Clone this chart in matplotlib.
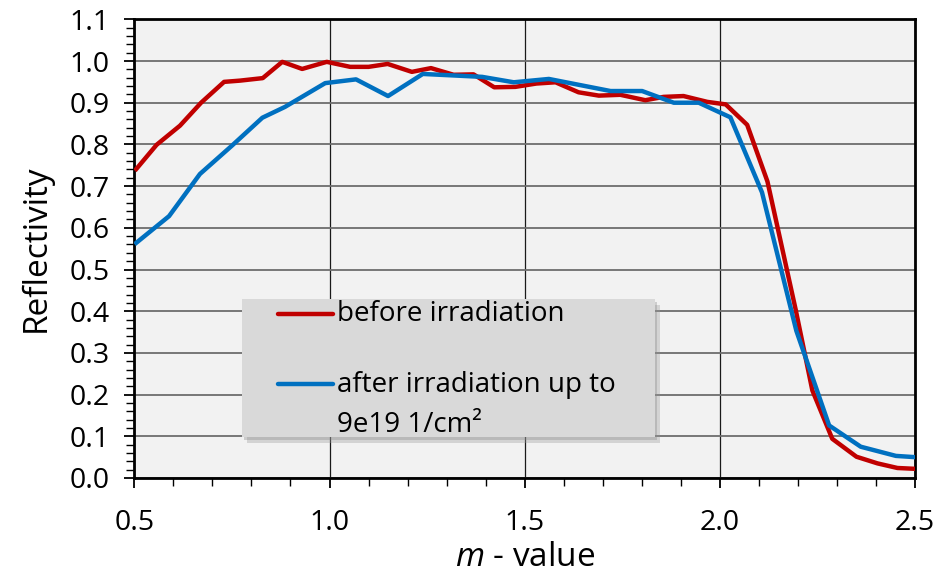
import matplotlib
matplotlib.use("Agg")
import matplotlib.pyplot as plt
from matplotlib.patches import Rectangle
from matplotlib.lines import Line2D
from matplotlib.ticker import MultipleLocator

plt.rcParams['font.family'] = ['Open Sans', 'DejaVu Sans']
plt.rcParams['mathtext.fontset'] = 'custom'
plt.rcParams['mathtext.rm'] = 'Open Sans'
plt.rcParams['mathtext.it'] = 'Open Sans:italic'

before_m = [0.505, 0.557, 0.617, 0.671, 0.730, 0.771, 0.829, 0.879, 0.930, 0.993,
            1.053, 1.100, 1.149, 1.211, 1.260, 1.318, 1.369, 1.422, 1.476, 1.530,
            1.579, 1.638, 1.690, 1.745, 1.809, 1.856, 1.907, 1.968, 2.015, 2.070,
            2.122, 2.194, 2.237, 2.288, 2.350, 2.404, 2.455, 2.500]
before_R = [0.741, 0.799, 0.845, 0.900, 0.950, 0.953, 0.959, 0.998, 0.981, 0.998,
            0.986, 0.986, 0.993, 0.974, 0.983, 0.967, 0.968, 0.937, 0.938, 0.946,
            0.949, 0.925, 0.917, 0.919, 0.906, 0.914, 0.916, 0.902, 0.896, 0.847,
            0.711, 0.405, 0.210, 0.094, 0.051, 0.035, 0.024, 0.022]

after_m = [0.505, 0.589, 0.668, 0.750, 0.828, 0.886, 0.989, 1.068, 1.150, 1.239,
           1.391, 1.472, 1.562, 1.720, 1.801, 1.882, 1.946, 2.027, 2.108, 2.196,
           2.280, 2.361, 2.451, 2.500]
after_R = [0.564, 0.628, 0.729, 0.797, 0.864, 0.890, 0.947, 0.956, 0.916, 0.969,
           0.962, 0.949, 0.957, 0.928, 0.928, 0.900, 0.900, 0.865, 0.685, 0.353,
           0.126, 0.075, 0.053, 0.050]

label_before = "before irradiation"
label_after = "after irradiation up to\n9e19 1/cm²"
xticks = [0.5, 1.0, 1.5, 2.0, 2.5]
yticks = [0.0, 0.1, 0.2, 0.3, 0.4, 0.5, 0.6, 0.7, 0.8, 0.9, 1.0, 1.1]

RED = "#c00000"
BLUE = "#0070c0"

fig = plt.figure(figsize=(9.48, 5.75), dpi=100)
ax = fig.add_axes([0.1417, 0.1687, 0.8235, 0.7977])
ax.set_facecolor("#f2f2f2")

ax.plot(before_m, before_R, color=RED, lw=3.2, solid_joinstyle='round', zorder=3)
ax.plot(after_m, after_R, color=BLUE, lw=3.2, solid_joinstyle='round', zorder=4)

ax.set_xlim(0.5, 2.5)
ax.set_ylim(0.0, 1.1)
ax.set_xticks(xticks)
ax.set_xticklabels([f"{v:.1f}" for v in xticks])
ax.set_yticks(yticks)
ax.set_yticklabels([f"{v:.1f}" for v in yticks])
ax.xaxis.set_minor_locator(MultipleLocator(0.1))
ax.yaxis.set_minor_locator(MultipleLocator(0.02))

ax.grid(axis='y', which='major', color='#6e6e6e', lw=1.3, zorder=1)
ax.grid(axis='x', which='major', color='#1a1a1a', lw=0.9, zorder=1)
ax.set_axisbelow(True)

for s in ax.spines.values():
    s.set_color('black')
    s.set_linewidth(2.0)

ax.tick_params(axis='both', which='major', direction='out', length=7, width=1.3,
               labelsize=20.5, colors='black')
ax.tick_params(axis='both', which='minor', direction='out', length=6, width=1.0)
ax.tick_params(axis='y', which='major', pad=11)
ax.tick_params(axis='x', which='major', pad=15)

ax.set_xlabel(r"$\mathit{m}$ - value", fontsize=24, labelpad=3)
ax.set_ylabel("Reflectivity", fontsize=24, labelpad=12)

# legend box (manual)
bx0, by0, bw, bh = 0.138, 0.0887, 0.529, 0.301
ax.add_patch(Rectangle((bx0 + 0.006, by0 - 0.012), bw, bh, transform=ax.transAxes,
                       facecolor='#9a9a9a', edgecolor='none', alpha=0.35, zorder=5))
ax.add_patch(Rectangle((bx0 + 0.003, by0 - 0.006), bw, bh, transform=ax.transAxes,
                       facecolor='#8a8a8a', edgecolor='none', alpha=0.35, zorder=5))
ax.add_patch(Rectangle((bx0, by0), bw, bh, transform=ax.transAxes,
                       facecolor='#d9d9d9', edgecolor='none', zorder=6))
ax.add_line(Line2D([0.184, 0.254], [0.3575, 0.3575], transform=ax.transAxes,
                   color=RED, lw=3.2, solid_capstyle='round', zorder=7))
ax.add_line(Line2D([0.184, 0.254], [0.205, 0.205], transform=ax.transAxes,
                   color=BLUE, lw=3.2, solid_capstyle='round', zorder=7))
ax.text(0.259, 0.3575, label_before, transform=ax.transAxes, fontsize=20,
        va='center', ha='left', zorder=8)
ax.text(0.259, 0.233, label_after, transform=ax.transAxes, fontsize=20,
        va='top', ha='left', linespacing=1.55, zorder=8)

fig.savefig("out.png", dpi=100)
